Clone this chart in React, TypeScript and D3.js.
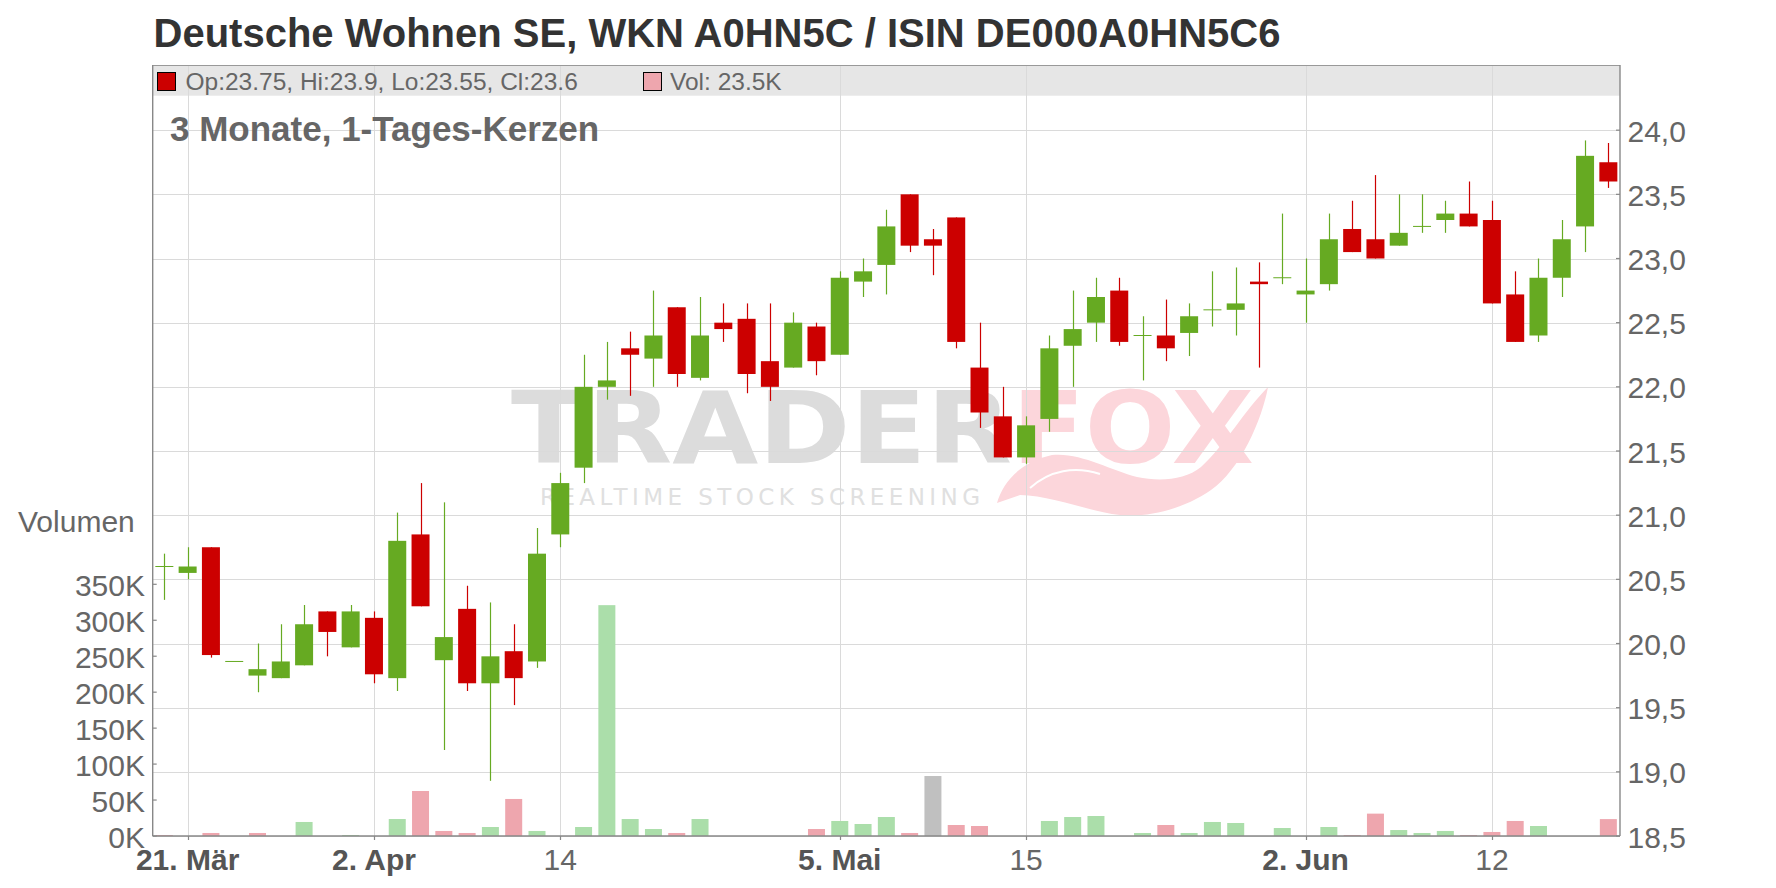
import React from "react";
import * as d3 from "d3";

// ---------- data ----------
const opens = [20.60,20.55,20.75,19.86,19.75,19.73,19.83,20.25,19.97,20.20,19.73,20.85,19.87,20.27,19.69,19.94,19.86,20.85,21.37,22.00,22.30,22.22,22.62,22.07,22.50,22.53,22.20,22.15,22.47,22.25,22.82,22.95,23.50,23.15,23.32,22.15,21.77,21.45,21.75,22.32,22.50,22.75,22.40,22.40,22.42,22.60,22.60,22.82,22.85,22.72,22.80,23.23,23.15,23.10,23.25,23.30,23.35,23.30,22.72,22.40,22.85,23.25,23.75];
const highs = [20.70,20.75,20.75,19.86,20.00,20.15,20.30,20.25,20.30,20.25,21.02,21.25,21.10,20.45,20.32,20.15,20.90,21.33,22.25,22.35,22.43,22.75,22.62,22.70,22.65,22.65,22.65,22.58,22.50,22.90,23.00,23.38,23.50,23.23,23.32,22.50,22.00,21.77,22.40,22.75,22.85,22.85,22.55,22.68,22.65,22.90,22.93,22.97,23.35,23.00,23.35,23.45,23.65,23.50,23.50,23.45,23.60,23.45,22.90,23.00,23.30,23.92,23.90];
const lows = [20.34,20.50,19.89,19.86,19.62,19.73,19.83,19.90,19.97,19.69,19.63,20.29,19.17,19.63,18.93,19.52,19.81,20.75,21.25,21.90,21.93,22.00,22.00,22.05,22.35,21.95,21.89,22.15,22.09,22.25,22.70,22.72,23.05,22.87,22.30,21.68,21.45,21.40,21.65,22.00,22.35,22.32,22.05,22.20,22.24,22.47,22.40,22.15,22.80,22.50,22.75,23.05,23.00,23.10,23.20,23.20,23.25,22.65,22.35,22.35,22.70,23.05,23.55];
const closes = [20.60,20.60,19.91,19.86,19.80,19.86,20.15,20.09,20.25,19.76,20.80,20.29,20.05,19.69,19.90,19.73,20.70,21.25,22.00,22.05,22.25,22.40,22.10,22.40,22.45,22.10,22.00,22.50,22.20,22.85,22.90,23.25,23.10,23.10,22.35,21.80,21.45,21.70,22.30,22.45,22.70,22.35,22.40,22.30,22.55,22.60,22.65,22.80,22.85,22.75,23.15,23.05,23.00,23.20,23.25,23.35,23.25,22.65,22.35,22.85,23.15,23.80,23.60];
// volume in thousands
const volumes = [1.4,0,4.2,0,4.2,0,19.5,0,1.4,0,23.6,62.6,7.0,4.2,12.5,51.5,7.0,0,12.5,321,23.6,9.7,4.2,23.6,0,0,0,0,9.7,20.9,16.7,26.4,4.2,83.4,15.3,13.9,0,0,20.9,26.4,27.8,0,4.2,15.3,4.2,19.5,18.1,0,11.1,0,12.5,1.4,31.1,8.3,4.2,7.0,1.4,5.6,20.9,13.9,0,0,23.5];
const prevCloseBefore = 20.65;

const tickIndex = [1, 9, 17, 29, 37, 49, 57];
const tickLabels = ["21. Mär", "2. Apr", "14", "5. Mai", "15", "2. Jun", "12"];
const tickBold = [true, true, false, true, false, true, false];

const priceTicks = [18.5, 19.0, 19.5, 20.0, 20.5, 21.0, 21.5, 22.0, 22.5, 23.0, 23.5, 24.0];
const volumeTicks = [0, 50, 100, 150, 200, 250, 300, 350];

const titleText = "Deutsche Wohnen SE, WKN A0HN5C / ISIN DE000A0HN5C6";
const subtitleText = "3 Monate, 1-Tages-Kerzen";
const legendOhlc = "Op:23.75, Hi:23.9, Lo:23.55, Cl:23.6";
const legendVol = "Vol: 23.5K";

// ---------- styles ----------
const FONT = "'Liberation Sans', Arial, sans-serif";
const UP = "#66aa22";
const DOWN = "#cc0000";
const VOL_UP = "#abdeaa";
const VOL_DOWN = "#eea6ae";
const VOL_FLAT = "#c0c0c0";
const GRID = "#dadada";
const AXIS = "#888888";

export default function App() {
  const L = 152.7, R = 1620, T = 65, B = 836;
  const n = closes.length;
  const x = d3.scaleBand<number>().domain(d3.range(n)).range([L, R]).padding(0);
  const step = x.bandwidth();
  const cx = (i: number) => (x(i) as number) + step / 2;
  const y = d3.scaleLinear().domain([18.5, 24.5]).range([B, 66]);
  const yv = d3.scaleLinear().domain([0, 350]).range([B, 584.3]);
  const bodyW = 18;
  const volW = 17;
  const fmtPrice = (v: number) => d3.format(".1f")(v).replace(".", ",");

  return (
    <svg width={1776} height={888} style={{ position: "absolute", left: 0, top: 0, background: "#fff" }} fontFamily={FONT}>
      <rect x={0} y={0} width={1776} height={888} fill="#ffffff" />
      {/* title */}
      <text x={153.5} y={47} fontSize={40} fontWeight="bold" fill="#333333">{titleText}</text>

      {/* legend bar */}
      <rect x={L} y={T} width={R - L} height={30.7} fill="#e6e6e6" />

      {/* watermark */}
      <g>
        <text x={511} y={463} fontFamily="'DejaVu Sans', sans-serif" fontWeight="bold" fontSize={100} fill="#dcdcdc" textLength={501} lengthAdjust="spacingAndGlyphs">TRADER</text>
        <text x={1012} y={463} fontFamily="'DejaVu Sans', sans-serif" fontWeight="bold" fontSize={100} fill="#fcd6db" textLength={242} lengthAdjust="spacingAndGlyphs">FOX</text>
        <path d="M997,503 C1003,482 1020,462 1052,455 C1080,452 1110,470 1137,477 C1160,482 1185,480 1201,467 C1225,445 1245,410 1268,387 C1262,420 1240,470 1211,490 C1185,508 1150,518 1120,515 C1090,512 1050,495 1020,495 Z" fill="#fcd6db" />
        <path d="M1030,488 C1050,470 1075,466 1100,474" stroke="#ffffff" strokeWidth={2} fill="none" />
        <text x={540} y={505} fontFamily="'DejaVu Sans', sans-serif" fontSize={23} fill="#e0e0e0" textLength={440} lengthAdjust="spacing">REALTIME STOCK SCREENING</text>
      </g>

      {/* horizontal gridlines */}
      {priceTicks.map((p) => (
        <line key={"hg" + p} x1={L} x2={R} y1={Math.round(y(p)) + 0.5} y2={Math.round(y(p)) + 0.5} stroke={GRID} strokeWidth={1} />
      ))}
      {/* vertical gridlines */}
      {tickIndex.map((i) => (
        <line key={"vg" + i} x1={Math.round(cx(i)) + 0.5} x2={Math.round(cx(i)) + 0.5} y1={T} y2={B} stroke={GRID} strokeWidth={1} />
      ))}

      {/* volume bars */}
      {volumes.map((v, i) => {
        if (v <= 0) return null;
        const pc = i === 0 ? prevCloseBefore : closes[i - 1];
        const col = closes[i] > pc ? VOL_UP : closes[i] < pc ? VOL_DOWN : VOL_FLAT;
        return <rect key={"v" + i} x={cx(i) - volW / 2} y={yv(v)} width={volW} height={B - yv(v)} fill={col} />;
      })}

      {/* candles */}
      {closes.map((c, i) => {
        const o = opens[i];
        const up = c >= o;
        const col = up ? UP : DOWN;
        const top = y(Math.max(o, c));
        const bot = y(Math.min(o, c));
        const h = Math.max(1, bot - top);
        const wx = Math.round(cx(i)) + 0.5;
        return (
          <g key={"c" + i}>
            <line x1={wx} x2={wx} y1={y(highs[i])} y2={y(lows[i])} stroke={col} strokeWidth={1.2} />
            <rect x={cx(i) - bodyW / 2} y={h === 1 ? top - 0.5 : top} width={bodyW} height={h} fill={col} />
          </g>
        );
      })}

      {/* plot frame */}
      <line x1={L} x2={R} y1={T + 0.5} y2={T + 0.5} stroke="#999999" strokeWidth={1} />
      <line x1={L} x2={L} y1={T} y2={B} stroke={AXIS} strokeWidth={1.4} />
      <line x1={R} x2={R} y1={T} y2={B} stroke={AXIS} strokeWidth={1.4} />
      <line x1={L} x2={R} y1={B} y2={B} stroke={AXIS} strokeWidth={1.4} />

      {/* price axis */}
      {priceTicks.map((p) => (
        <g key={"pt" + p}>
          <line x1={R - 4} x2={R} y1={y(p)} y2={y(p)} stroke={AXIS} strokeWidth={1.2} />
          <text x={1627.5} y={y(p) + 11.5} fontSize={30} fill="#666666">{fmtPrice(p)}</text>
        </g>
      ))}

      {/* volume axis */}
      {volumeTicks.map((v) => (
        <g key={"vt" + v}>
          <line x1={L} x2={L + 4} y1={yv(v)} y2={yv(v)} stroke={AXIS} strokeWidth={1.2} />
          <text x={145} y={yv(v) + 11.5} fontSize={30} fill="#666666" textAnchor="end">{v + "K"}</text>
        </g>
      ))}
      <text x={18} y={532} fontSize={30} fill="#666666">Volumen</text>

      {/* x axis */}
      {tickIndex.map((i, k) => (
        <g key={"xt" + i}>
          <line x1={Math.round(cx(i)) + 0.5} x2={Math.round(cx(i)) + 0.5} y1={B} y2={B + 4} stroke={AXIS} strokeWidth={1.2} />
          <text x={cx(i)} y={870} fontSize={30} textAnchor="middle" fontWeight={tickBold[k] ? "bold" : "normal"} fill={tickBold[k] ? "#555555" : "#666666"}>{tickLabels[k]}</text>
        </g>
      ))}

      {/* legend */}
      <rect x={157.5} y={72.5} width={18} height={18} fill={DOWN} stroke="#000" strokeWidth={1} />
      <text x={185.5} y={89.5} fontSize={24.5} fill="#666666">{legendOhlc}</text>
      <rect x={643.5} y={72.5} width={18} height={18} fill={VOL_DOWN} stroke="#000" strokeWidth={1} />
      <text x={670} y={89.5} fontSize={24.5} fill="#666666">{legendVol}</text>

      {/* subtitle */}
      <text x={170} y={140.5} fontSize={35} fontWeight="bold" fill="#666666">{subtitleText}</text>
    </svg>
  );
}
